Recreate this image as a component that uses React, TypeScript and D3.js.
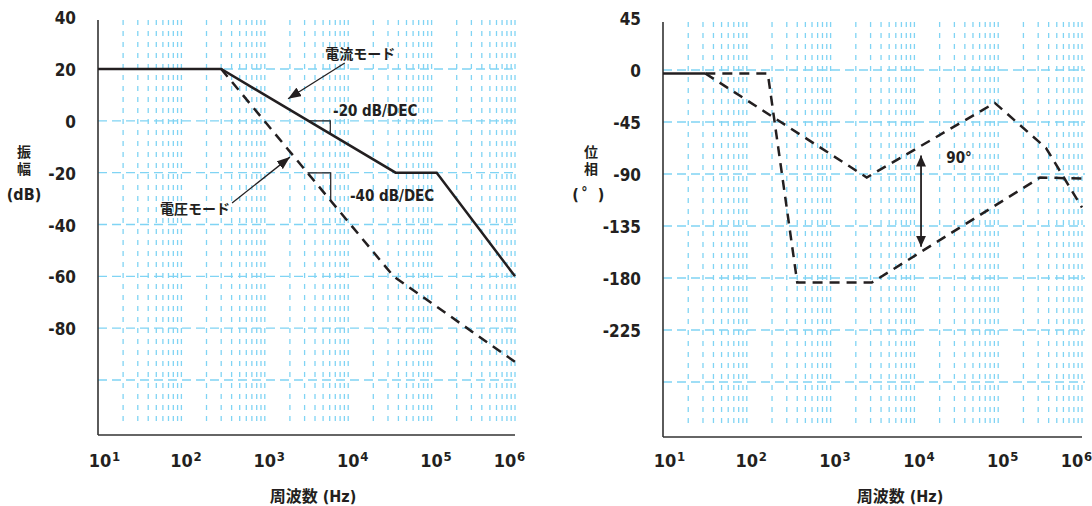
import React from "react";
import * as d3 from "d3";

const FONT = "'DejaVu Sans Condensed', 'Noto Sans CJK JP', sans-serif";
const GRID = "#80d4f4";
const INK = "#231f20";

// frequency decades and exponent labels
const decadeTicks = [1e1, 1e2, 1e3, 1e4, 1e5, 1e6];
const decadeExponents = ["1", "2", "3", "4", "5", "6"];

// y ticks (labelled) and dashed grid rows
const gainTickValues = [40, 20, 0, -20, -40, -60, -80];
const gainGridValues = [20, 0, -20, -40, -60, -80, -100];
const phaseTickValues = [45, 0, -45, -90, -135, -180, -225];
const phaseGridValues = [0, -45, -90, -135, -180, -225, -270];

// gain (dB)
const currentModeFreq = [10, 300, 37000, 115000, 1e6];
const currentModeGain = [20, 20, -20, -20, -60];
const voltageModeFreq = [300, 35000, 1e6];
const voltageModeGain = [20, -60, -93];

// phase (deg)
const phaseStartFreq = [10, 32];
const phaseStartDeg = [-3, -3];
const phaseAFreq = [32, 178, 400, 3100, 316000, 1e6];
const phaseADeg = [-3, -3, -184, -184, -93, -94];
const phaseBFreq = [32, 2700, 91000, 372000, 1e6];
const phaseBDeg = [-3, -93, -28.5, -67.5, -119];

// annotations (freq, value)
const slope20Freq = [3330, 6100];
const slope40Freq = [3250, 6170];
const currentArrow = [[9100, 22.3], [1900, 8.5]];
const voltageArrow = [[405, -31.7], [2000, -14]];
const phaseArrowFreq = 12000;
const phaseArrowDeg = [-74, -153];

type Frame = {
  x0: number; x1: number; top: number; bottom: number; gridBottom: number;
};

const left: Frame = { x0: 98, x1: 515, top: 20, bottom: 435, gridBottom: 425 };
const right: Frame = { x0: 663, x1: 1082, top: 22, bottom: 437, gridBottom: 425 };

const xL = d3.scaleLog().domain([10, 1e6]).range([left.x0, left.x1]);
const xR = d3.scaleLog().domain([10, 1e6]).range([right.x0, right.x1]);
const yGain = d3.scaleLinear().domain([20, -100]).range([69, 380]);
const yPhase = d3.scaleLinear().domain([0, -270]).range([70, 382]);

const zip = (a: number[], b: number[]) => a.map((v, i) => [v, b[i]] as [number, number]);

function Axes({ f, x, y, ticks, grid, title, titleX }: any) {
  const minor = x.ticks().filter((t: number) => t > 10);
  return (
    <g>
      {minor.map((t: number, i: number) => (
        <line key={"v" + i} x1={x(t)} x2={x(t)} y1={f.top} y2={f.gridBottom}
          stroke={GRID} strokeWidth={1.3} strokeDasharray="5,6" />
      ))}
      {grid.map((v: number, i: number) => (
        <line key={"h" + i} x1={f.x0} x2={f.x1 + 3} y1={y(v)} y2={y(v)}
          stroke={GRID} strokeWidth={1.3} strokeDasharray="9,5" />
      ))}
      <line x1={f.x0} x2={f.x0} y1={f.top} y2={f.bottom} stroke="#333" strokeWidth={1.6} />
      <line x1={f.x0} x2={f.x1} y1={f.bottom} y2={f.bottom} stroke="#333" strokeWidth={1.6} />
      {ticks.map((v: number, i: number) => (
        <text key={"yt" + i} x={f.x0 - 22} y={y(v) + 7} textAnchor="end"
          fontSize={17} fontWeight="bold" fill={INK}>{v}</text>
      ))}
      {decadeTicks.map((t, i) => {
        const dx = i === 0 ? 2 : i === decadeTicks.length - 1 ? -10 : 0;
        const cx = x(t) + dx;
        return (
          <g key={"xt" + i}>
            <text x={cx} y={467} textAnchor="middle" fontSize={18} fontWeight="bold" fill={INK}>10</text>
            <text x={cx + 12} y={461} fontSize={13} fontWeight="bold" fill={INK}>{decadeExponents[i]}</text>
          </g>
        );
      })}
      <text x={titleX} y={502} textAnchor="middle" fontSize={16} fontWeight="bold" fill={INK}>{title}</text>
    </g>
  );
}

export default function App() {
  const lineL = d3.line<[number, number]>().x(d => xL(d[0])).y(d => yGain(d[1]));
  const lineR = d3.line<[number, number]>().x(d => xR(d[0])).y(d => yPhase(d[1]));

  const gCur = d3.scaleLog().domain(currentModeFreq).range(currentModeGain);
  const gVol = d3.scaleLog().domain(voltageModeFreq).range(voltageModeGain);
  const tri = (g: any, fr: number[]) =>
    lineL([[fr[0], g(fr[0])], [fr[1], g(fr[0])], [fr[1], g(fr[1])]]);

  const curve = { fill: "none", stroke: INK, strokeWidth: 2.5 };
  const dashed = { ...curve, strokeDasharray: "10,7" };

  return (
    <svg width={1092} height={506} style={{ position: "absolute", left: 0, top: 0, background: "#fff" }}
      fontFamily={FONT}>
      <defs>
        <marker id="ah" markerUnits="userSpaceOnUse" markerWidth={14} markerHeight={10}
          refX={13} refY={5} orient="auto">
          <path d="M0,0 L13,5 L0,10 z" fill={INK} />
        </marker>
        <marker id="ah2" markerUnits="userSpaceOnUse" markerWidth={12} markerHeight={10}
          refX={11} refY={5} orient="auto-start-reverse">
          <path d="M0,0 L11,5 L0,10 z" fill={INK} />
        </marker>
      </defs>

      {/* gain panel */}
      <Axes f={left} x={xL} y={yGain} ticks={gainTickValues} grid={gainGridValues}
        title="周波数 (Hz)" titleX={313} />
      <text x={24} y={157} textAnchor="middle" fontSize={14} fontWeight="bold" fill={INK}>振</text>
      <text x={24} y={174} textAnchor="middle" fontSize={14} fontWeight="bold" fill={INK}>幅</text>
      <text x={24} y={200} textAnchor="middle" fontSize={16} fontWeight="bold" fill={INK}>(dB)</text>

      <path d={lineL(zip(currentModeFreq, currentModeGain)) || ""} {...curve} />
      <path d={lineL(zip(voltageModeFreq, voltageModeGain)) || ""} {...dashed} />
      <path d={tri(gCur, slope20Freq) || ""} fill="none" stroke={INK} strokeWidth={1.2} />
      <path d={tri(gVol, slope40Freq) || ""} fill="none" stroke={INK} strokeWidth={1.2} />

      <line x1={xL(currentArrow[0][0])} y1={yGain(currentArrow[0][1])}
        x2={xL(currentArrow[1][0])} y2={yGain(currentArrow[1][1])}
        stroke={INK} strokeWidth={1.3} markerEnd="url(#ah)" />
      <line x1={xL(voltageArrow[0][0])} y1={yGain(voltageArrow[0][1])}
        x2={xL(voltageArrow[1][0])} y2={yGain(voltageArrow[1][1])}
        stroke={INK} strokeWidth={1.3} markerEnd="url(#ah)" />

      <text x={xL(5300)} y={yGain(23.9)} fontSize={14} fontWeight="bold" fill={INK}>電流モード</text>
      <text x={xL(383)} y={yGain(-36)} textAnchor="end" fontSize={14} fontWeight="bold" fill={INK}>電圧モード</text>
      <text x={xL(6580)} y={yGain(1.9)} fontSize={15} fontWeight="bold" fill={INK}>-20 dB/DEC</text>
      <text x={xL(10500)} y={yGain(-30.8)} fontSize={15} fontWeight="bold" fill={INK}>-40 dB/DEC</text>

      {/* phase panel */}
      <Axes f={right} x={xR} y={yPhase} ticks={phaseTickValues} grid={phaseGridValues}
        title="周波数 (Hz)" titleX={900} />
      <text x={591} y={157} textAnchor="middle" fontSize={14} fontWeight="bold" fill={INK}>位</text>
      <text x={591} y={174} textAnchor="middle" fontSize={14} fontWeight="bold" fill={INK}>相</text>
      <text x={575.5} y={200} textAnchor="middle" fontSize={16} fontWeight="bold" fill={INK}>(</text>
      <text x={584.5} y={197} textAnchor="middle" fontSize={14} fontWeight="bold" fill={INK}>°</text>
      <text x={601} y={200} textAnchor="middle" fontSize={16} fontWeight="bold" fill={INK}>)</text>

      <path d={lineR(zip(phaseStartFreq, phaseStartDeg)) || ""} {...curve} />
      <path d={lineR(zip(phaseAFreq, phaseADeg)) || ""} {...dashed} />
      <path d={lineR(zip(phaseBFreq, phaseBDeg)) || ""} {...dashed} />

      <line x1={xR(phaseArrowFreq)} x2={xR(phaseArrowFreq)}
        y1={yPhase(phaseArrowDeg[0])} y2={yPhase(phaseArrowDeg[1])}
        stroke={INK} strokeWidth={1.8} markerStart="url(#ah2)" markerEnd="url(#ah2)" />
      <text x={xR(24000)} y={yPhase(-80.5)} fontSize={15} fontWeight="bold" fill={INK}>90°</text>
    </svg>
  );
}
